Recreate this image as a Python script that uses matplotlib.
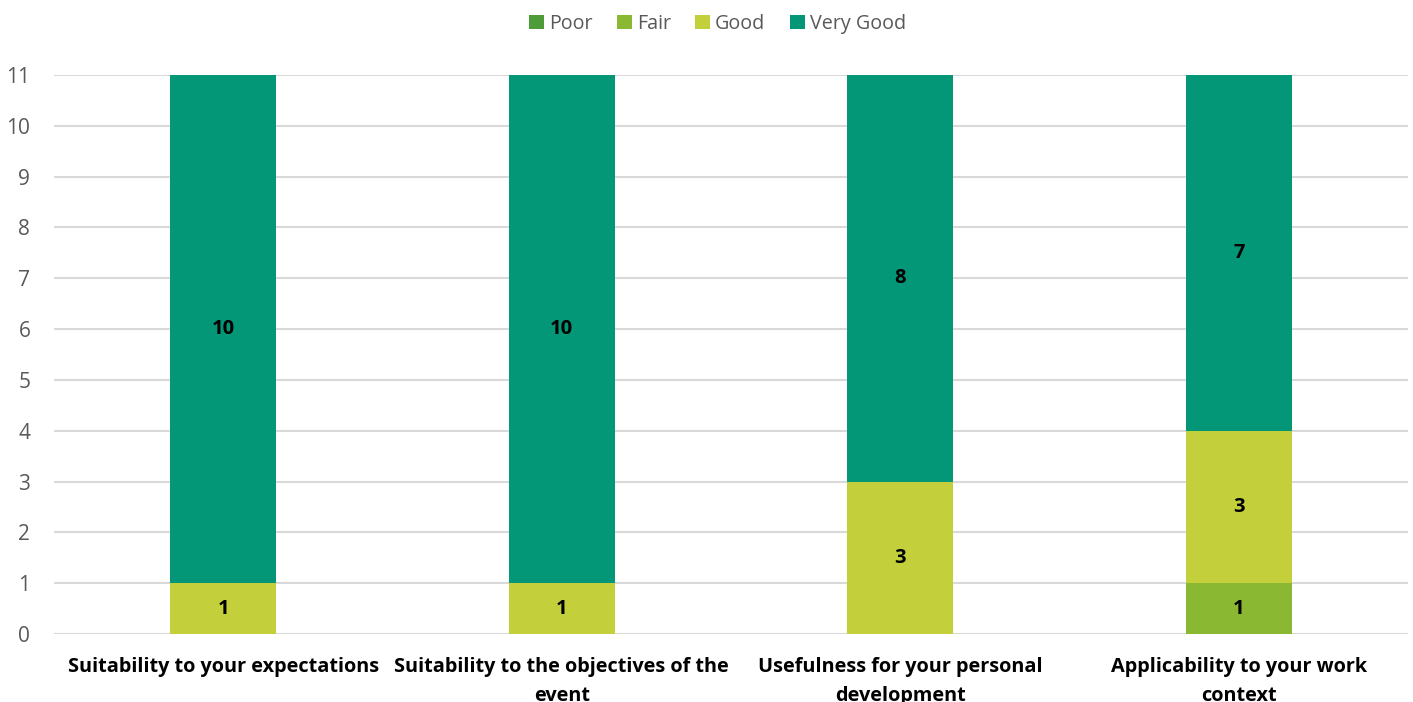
import matplotlib.pyplot as plt
import numpy as np

plt.rcParams['font.family'] = ['Open Sans', 'DejaVu Sans']

# Survey ratings per question
categories = ['Suitability to your expectations',
              'Suitability to the objectives of the\nevent',
              'Usefulness for your personal\ndevelopment',
              'Applicability to your work\ncontext']
poor = [0, 0, 0, 0]
fair = [0, 0, 0, 1]
good = [1, 1, 3, 3]
very_good = [10, 10, 8, 7]

series = [('Poor', poor, '#4E9B3A'),
          ('Fair', fair, '#8AB833'),
          ('Good', good, '#C3D03B'),
          ('Very Good', very_good, '#039677')]

fig = plt.figure(figsize=(14.13, 7.02), dpi=100)
ax = fig.add_axes([0.0382, 0.0969, 0.9583, 0.7963])

x = np.arange(len(categories))
bottom = np.zeros(len(categories))
for name, vals, color in series:
    vals = np.array(vals, dtype=float)
    bars = ax.bar(x, vals, width=0.313, bottom=bottom, color=color, label=name, zorder=3)
    # Label non-empty segments with their counts
    for xi, b, v in zip(x, bottom, vals):
        if v > 0:
            ax.text(xi, b + v / 2, f'{int(v)}', ha='center', va='center',
                    fontsize=14.5, fontweight='bold', color='black', zorder=4)
    bottom += vals

ax.set_xlim(-0.5, 3.5)
ax.set_ylim(0, 11)
ax.set_yticks(range(0, 12))
ax.set_xticks(x)
ax.set_xticklabels(categories, fontsize=14.3, fontweight='bold', color='black',
                   linespacing=1.6, va='top')
ax.tick_params(axis='y', labelsize=15, labelcolor='#595959', length=0, pad=17)
ax.tick_params(axis='x', length=0, pad=16.5)
ax.grid(axis='y', color='#D9D9D9', linewidth=1.5, zorder=0)
for s in ax.spines.values():
    s.set_visible(False)

ax.legend(loc='lower center', bbox_to_anchor=(0.49, 1.042), ncol=4, frameon=False,
          fontsize=14.2, labelcolor='#595959', handlelength=0.75, handleheight=0.75,
          handletextpad=0.25, columnspacing=1.25)

fig.savefig('out.png', dpi=100)
